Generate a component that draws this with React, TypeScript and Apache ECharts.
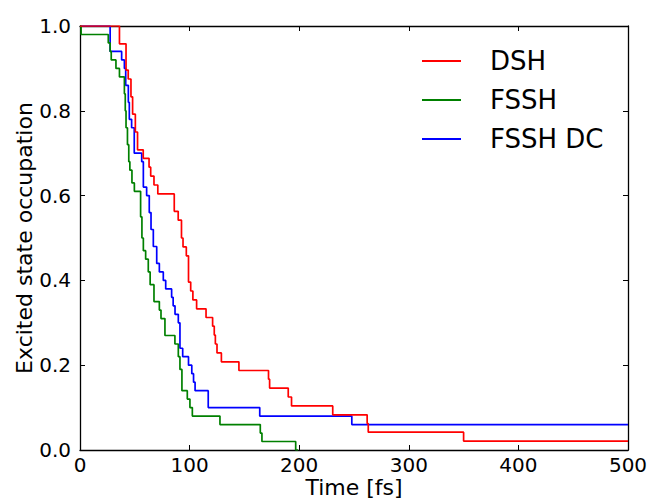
import React, { useEffect, useRef } from "react";
import * as echarts from "echarts";

// [time fs, occupation] — value holds from this time until the next point
const dshData: [number, number][] = [
  [0, 1], [36, 0.958], [42, 0.896], [44, 0.875], [46.5, 0.833], [48, 0.792], [50.5, 0.75],
  [52.5, 0.708], [57.7, 0.688], [63, 0.667], [64.5, 0.646], [67.5, 0.625], [71, 0.604],
  [86, 0.563], [89.6, 0.542], [92.6, 0.5], [94, 0.479], [97, 0.458], [99, 0.396],
  [101, 0.375], [103, 0.354], [106.4, 0.333], [115, 0.3125], [121, 0.292], [122.5, 0.271],
  [123.5, 0.25], [125, 0.229], [129, 0.208], [145, 0.1875], [172, 0.167], [173, 0.146],
  [190, 0.125], [193, 0.104], [230.6, 0.083], [262, 0.0625], [263, 0.042], [350, 0.021],
  [500, 0.021],
];

const fsshData: [number, number][] = [
  [0, 1], [1, 0.98], [25.8, 0.96], [27.5, 0.94], [28.5, 0.92], [32.8, 0.9], [36, 0.88],
  [40.5, 0.84], [41.3, 0.8], [42, 0.76], [43.3, 0.72], [44.5, 0.68], [45.5, 0.66],
  [47.4, 0.63], [49.6, 0.61], [55.3, 0.55], [56.5, 0.5], [57.8, 0.47], [59.9, 0.45],
  [62.3, 0.42], [64, 0.39], [67.5, 0.35], [72.4, 0.33], [73.9, 0.31], [77.5, 0.27],
  [86.6, 0.25], [89.7, 0.22], [91.2, 0.19], [93, 0.14], [97.9, 0.12], [100.3, 0.1],
  [102.5, 0.08], [127.7, 0.06], [164.5, 0.04], [166, 0.02], [196.8, 0], [199, 0],
];

const fsshDcData: [number, number][] = [
  [0, 1], [27.5, 0.94], [38, 0.92], [40.5, 0.9], [41.7, 0.86], [44.1, 0.82], [45, 0.78],
  [47.1, 0.76], [49.5, 0.7], [56.3, 0.68], [57.8, 0.62], [60.8, 0.6], [63.2, 0.56],
  [64.8, 0.52], [66.9, 0.48], [70, 0.44], [72.4, 0.42], [76, 0.4], [78.2, 0.38],
  [83.6, 0.36], [85, 0.34], [86.7, 0.32], [89.7, 0.3], [91.2, 0.24], [93.7, 0.22],
  [99, 0.2], [102, 0.18], [103.6, 0.16], [105, 0.14], [117, 0.1], [164, 0.08],
  [248, 0.06], [500, 0.06],
];

const seriesNames = ["DSH", "FSSH", "FSSH DC"];
const seriesColors = ["#ff0000", "#008000", "#0000ff"];

const FONT = "DejaVu Sans";

export default function App() {
  const ref = useRef<HTMLDivElement>(null);
  useEffect(() => {
    if (!ref.current) return;
    const chart = echarts.init(ref.current, null, { renderer: "svg" });
    const datas = [dshData, fsshData, fsshDcData];
    const axisLine = { show: true, onZero: false, lineStyle: { color: "#000", width: 1.3 } };
    const tick = { show: true, inside: true, length: 5, lineStyle: { color: "#000", width: 1 } };
    chart.setOption({
      animation: false,
      backgroundColor: "#fff",
      grid: {
        left: 80,
        right: 23,
        top: 26,
        bottom: 48,
        containLabel: false,
        outerBoundsMode: "none",
      },
      legend: {
        orient: "vertical",
        left: 422,
        top: 47,
        padding: 0,
        icon: "rect",
        itemWidth: 39,
        itemHeight: 2,
        itemGap: 11,
        data: seriesNames,
        textStyle: {
          fontFamily: FONT,
          fontSize: 26,
          lineHeight: 28,
          color: "#000",
          padding: [0, 0, 0, 24],
        },
      },
      xAxis: [
        {
          type: "value",
          min: 0,
          max: 500,
          interval: 100,
          position: "bottom",
          name: "Time [fs]",
          nameLocation: "middle",
          nameGap: 26,
          nameMoveOverlap: false,
          nameTextStyle: { fontFamily: FONT, fontSize: 22, color: "#000" },
          axisLine,
          axisTick: tick,
          splitLine: { show: false },
          axisLabel: { fontFamily: FONT, fontSize: 20, color: "#000", margin: 5 },
        },
        {
          type: "value",
          min: 0,
          max: 500,
          interval: 100,
          position: "top",
          axisLine,
          axisTick: tick,
          splitLine: { show: false },
          axisLabel: { show: false },
        },
      ],
      yAxis: [
        {
          type: "value",
          min: 0,
          max: 1,
          interval: 0.2,
          position: "left",
          name: "Excited state occupation",
          nameLocation: "middle",
          nameGap: 45,
          nameMoveOverlap: false,
          nameTextStyle: { fontFamily: FONT, fontSize: 22, color: "#000" },
          axisLine,
          axisTick: tick,
          splitLine: { show: false },
          axisLabel: {
            fontFamily: FONT,
            fontSize: 20,
            color: "#000",
            margin: 9,
            formatter: (v: number) => v.toFixed(1),
          },
        },
        {
          type: "value",
          min: 0,
          max: 1,
          interval: 0.2,
          position: "right",
          axisLine,
          axisTick: tick,
          splitLine: { show: false },
          axisLabel: { show: false },
        },
      ],
      series: datas.map((d, i) => ({
        name: seriesNames[i],
        type: "line",
        step: "end",
        data: d,
        symbol: "none",
        xAxisIndex: 0,
        yAxisIndex: 0,
        color: seriesColors[i],
        lineStyle: { color: seriesColors[i], width: 1.7 },
        z: 3 - i * 0.1,
      })),
    });
    return () => chart.dispose();
  }, []);
  return <div ref={ref} style={{ width: 651, height: 498, position: "absolute", left: 0, top: 0 }} />;
}
